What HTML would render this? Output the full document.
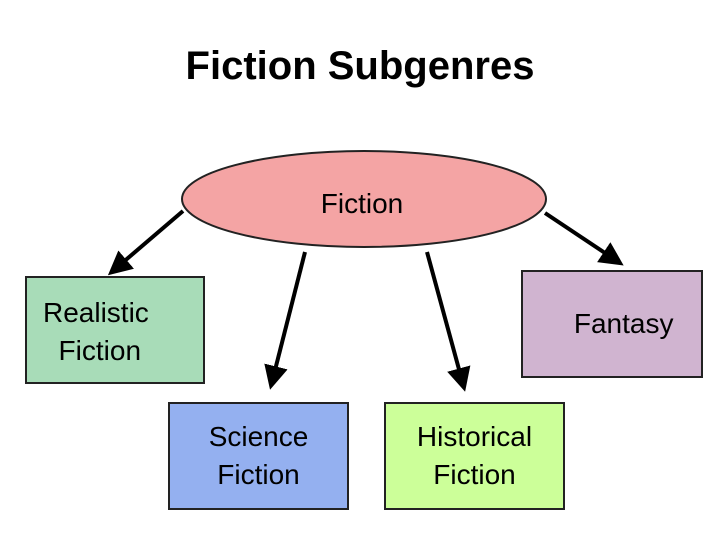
<!DOCTYPE html>
<html><head><style>
body{margin:0;width:720px;height:540px;background:#fff;font-family:"Liberation Sans",Arial,sans-serif;position:relative;overflow:hidden}
.t{position:absolute;left:0;width:720px;text-align:center;top:44px;font-size:40px;font-weight:bold;color:#000}
.b{position:absolute;box-sizing:border-box;border:2px solid #222;display:flex;align-items:center;justify-content:center;text-align:center;font-size:28px;line-height:38px;color:#000}
</style></head><body>
<div class="t">Fiction Subgenres</div>
<svg width="720" height="540" style="position:absolute;left:0;top:0">
<defs><marker id="a" markerWidth="6" markerHeight="6" refX="4" refY="3" orient="auto" markerUnits="strokeWidth"><path d="M0,0 L6,3 L0,6 Z" fill="#000"/></marker></defs>
<ellipse cx="364" cy="199" rx="182" ry="48" fill="#f4a4a4" stroke="#222" stroke-width="2"/>
<g stroke="#000" stroke-width="4" marker-end="url(#a)">
<line x1="183" y1="211" x2="114" y2="270"/>
<line x1="305" y1="252" x2="272" y2="382"/>
<line x1="427" y1="252" x2="463" y2="384"/>
<line x1="545" y1="213" x2="617" y2="261"/>
</g>
<text x="362" y="213" font-family="Liberation Sans,Arial,sans-serif" font-size="28" text-anchor="middle">Fiction</text>
</svg>
<div class="b" style="left:25px;top:276px;width:180px;height:108px;background:#a8dcb8;align-items:flex-start;padding-top:16px;justify-content:flex-start;padding-left:16px">Realistic<br>&nbsp;Fiction</div>
<div class="b" style="left:521px;top:270px;width:182px;height:108px;background:#d0b4d0">&nbsp;&nbsp;&nbsp;Fantasy</div>
<div class="b" style="left:168px;top:402px;width:181px;height:108px;background:#94b0f0">Science<br>Fiction</div>
<div class="b" style="left:384px;top:402px;width:181px;height:108px;background:#ccff99">Historical<br>Fiction</div>
</body></html>
